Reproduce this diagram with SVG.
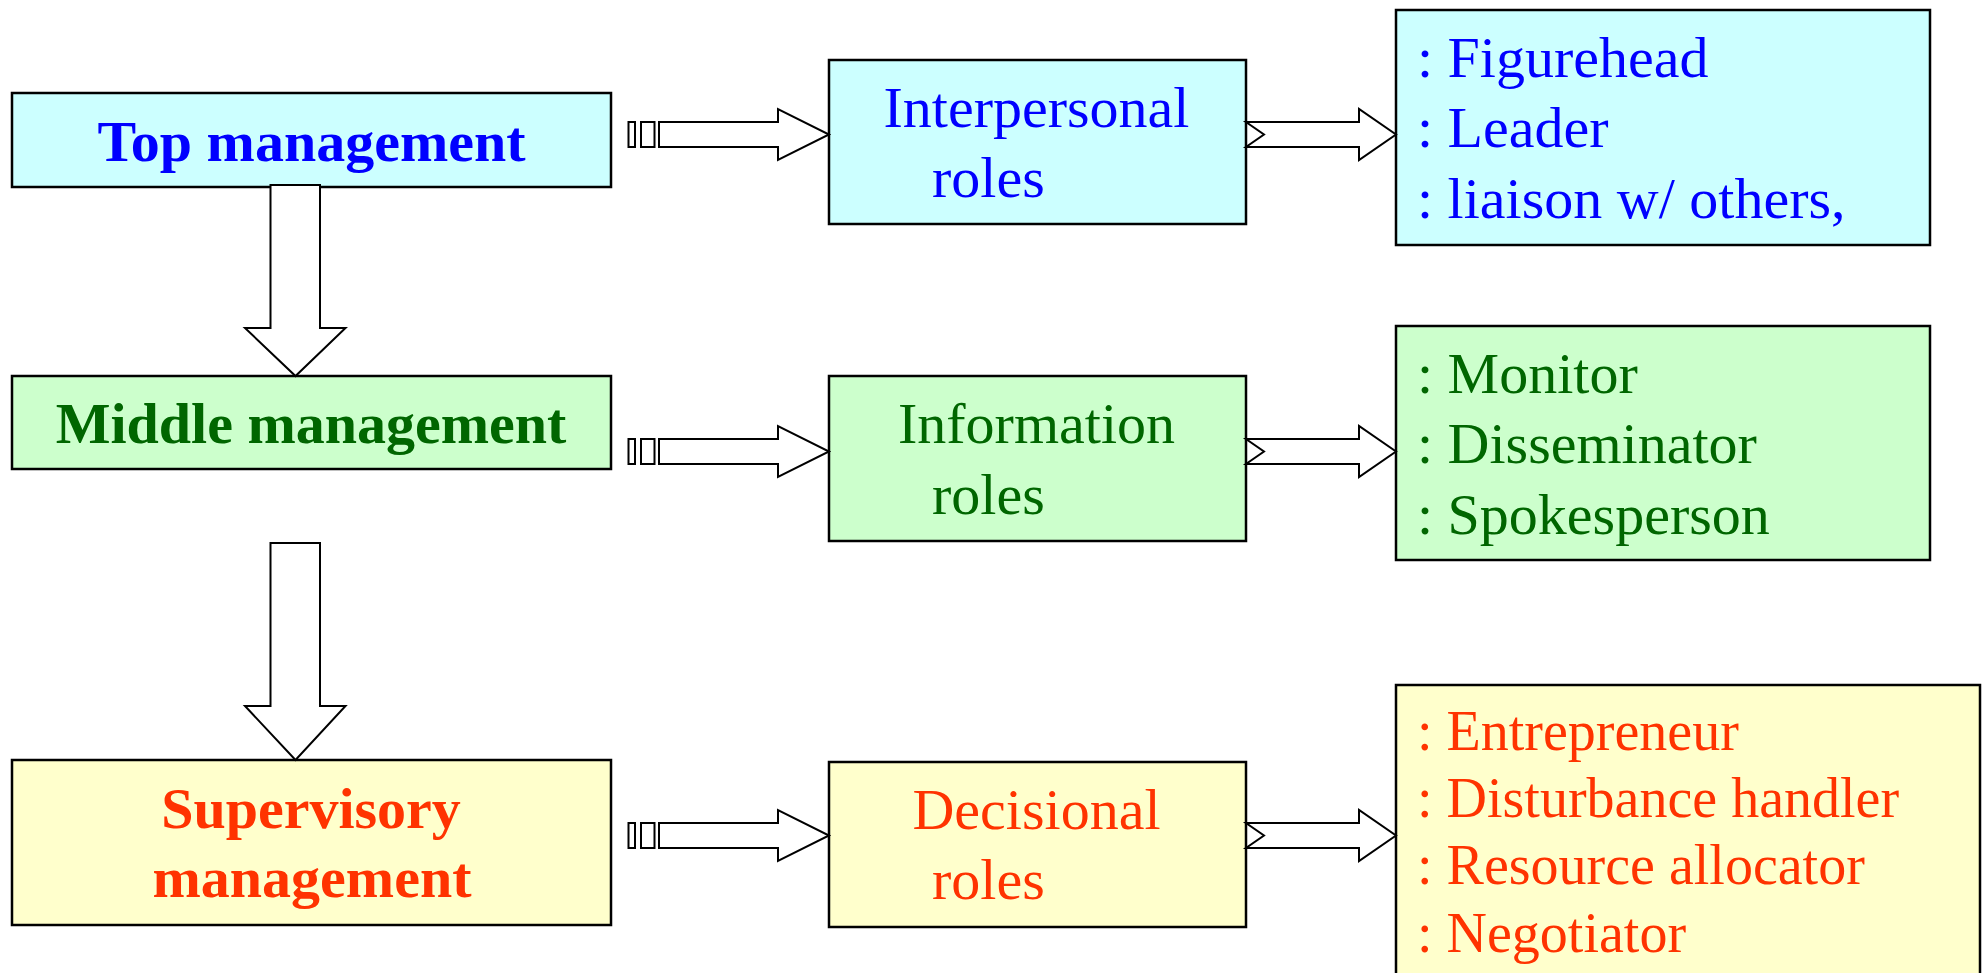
<svg xmlns="http://www.w3.org/2000/svg" width="1984" height="973" viewBox="0 0 1984 973">
<style>
.box{stroke:#000;stroke-width:2.5}
.cy{fill:#CCFFFF}.gr{fill:#CCFFCC}.ye{fill:#FFFFCC}
.arr{fill:#fff;stroke:#000;stroke-width:2;stroke-linejoin:miter}
text{font-family:"Liberation Serif","Times New Roman",serif;font-size:58px}
.b{font-weight:bold;text-anchor:middle}
.c{text-anchor:middle}
.blue{fill:#0000FF}.green{fill:#006600}.red{fill:#FF3300}
.s56{font-size:56px}
</style>
<defs>
<g id="harrow">
<rect class="arr" x="628.5" y="122" width="6.5" height="25"/>
<rect class="arr" x="641" y="122" width="13.5" height="25"/>
<polygon class="arr" points="659,122 778,122 778,109 829,134.5 778,160 778,147 659,147"/>
<polygon class="arr" points="1246,122 1359,122 1359,109 1396,134.5 1359,160 1359,147 1246,147 1264,134.5"/>
</g>
</defs>
<rect width="1984" height="973" fill="#fff"/>

<g id="top-management">
<rect class="box cy" x="12" y="93" width="599" height="94"/>
<text class="b blue" x="311.5" y="160.5">Top management</text>
</g>
<g id="middle-management">
<rect class="box gr" x="12" y="376" width="599" height="93"/>
<text class="b green" x="311" y="443.3">Middle management</text>
</g>
<g id="supervisory-management">
<rect class="box ye" x="12" y="760" width="599" height="165"/>
<text class="b red" x="311" y="828.3">Supervisory</text>
<text class="b red" x="312" y="897.3">management</text>
</g>

<g id="interpersonal-roles">
<rect class="box cy" x="829" y="60" width="417" height="164"/>
<text class="c blue" x="1036.5" y="127.3">Interpersonal</text>
<text class="blue" x="932" y="196.7">roles</text>
</g>
<g id="information-roles">
<rect class="box gr" x="829" y="376" width="417" height="165"/>
<text class="c green" x="1036.5" y="443.3">Information</text>
<text class="green" x="932" y="514">roles</text>
</g>
<g id="decisional-roles">
<rect class="box ye" x="829" y="762" width="417" height="165"/>
<text class="c red" x="1036.5" y="829.3">Decisional</text>
<text class="red" x="932" y="898.5">roles</text>
</g>

<g id="interpersonal-list">
<rect class="box cy" x="1396" y="10" width="534" height="235"/>
<text class="blue" x="1417" y="76.7">: Figurehead</text>
<text class="blue" x="1417" y="146.7">: Leader</text>
<text class="blue" x="1417" y="218.3">: liaison w/ others,</text>
</g>
<g id="information-list">
<rect class="box gr" x="1396" y="326" width="534" height="234"/>
<text class="green" x="1417" y="392.7">: Monitor</text>
<text class="green" x="1417" y="462.7">: Disseminator</text>
<text class="green" x="1417" y="534.3">: Spokesperson</text>
</g>
<g id="decisional-list">
<rect class="box ye" x="1396" y="685" width="584" height="300"/>
<text class="red s56" x="1417" y="750">: Entrepreneur</text>
<text class="red s56" x="1417" y="816.7">: Disturbance handler</text>
<text class="red s56" x="1417" y="884">: Resource allocator</text>
<text class="red s56" x="1417" y="951.7">: Negotiator</text>
</g>

<g id="connectors">
<polygon class="arr" points="270.5,185 320,185 320,328 345.5,328 295.5,376 245,328 270.5,328"/>
<polygon class="arr" points="270.5,543 320,543 320,706 345.5,706 295.5,760 245,706 270.5,706"/>
<use href="#harrow"/>
<use href="#harrow" transform="translate(0,317)"/>
<use href="#harrow" transform="translate(0,701)"/>
</g>
</svg>
